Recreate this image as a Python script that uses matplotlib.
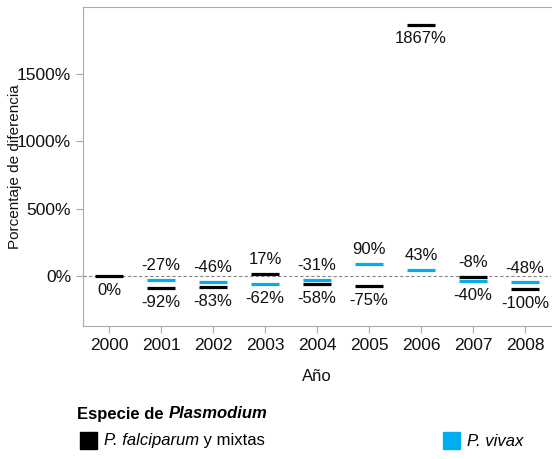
import matplotlib
matplotlib.use('Agg')
import matplotlib.pyplot as plt
from matplotlib.patches import Rectangle
import numpy as np

plt.rcParams['font.family'] = ['Liberation Sans', 'DejaVu Sans']

years = ['2000', '2001', '2002', '2003', '2004', '2005', '2006', '2007', '2008']
falciparum = [0, -92, -83, 17, -58, -75, 1867, -8, -100]
vivax = [None, -27, -46, -62, -31, 90, 43, -40, -48]
series_names = ['P. falciparum', 'P. vivax']
colors = ['#000000', '#00aeef']
yticks = [0, 500, 1000, 1500]

fig = plt.figure(figsize=(5.52, 4.59), dpi=100)
ax = fig.add_axes([83 / 552, 1 - 325.7 / 459, 468 / 552, (325.7 - 7) / 459])

x = np.arange(len(years))
hw = 0.27
for vals, col in zip([falciparum, vivax], colors):
    for xi, v in zip(x, vals):
        if v is None:
            continue
        ax.hlines(v, xi - hw, xi + hw, color=col, linewidth=2.3, zorder=3)

# value labels: higher one above its mark, lower one below
# (a mark near the top gets its label below and the other one goes above)
for xi, f, v in zip(x, falciparum, vivax):
    if v is None:
        items = [(f, False)]
    elif max(f, v) > 1500:
        items = [(f, f < v), (v, v < f)]
    else:
        items = [(f, f >= v), (v, v > f)]
    for val, up in items:
        ax.annotate(f'{val}%', (xi, val), xytext=(0, 5 if up else -5),
                    textcoords='offset points', ha='center',
                    va='bottom' if up else 'top', fontsize=12, color='#111111')

ax.axhline(0, color='#888888', linewidth=0.8, linestyle=(0, (3, 2)), zorder=1)

ax.set_xlim(-0.5, len(years) - 0.5)
ax.set_ylim(-369, 1997)
ax.set_xticks(x)
ax.set_xticklabels(years)
ax.set_yticks(yticks)
ax.set_yticklabels([f'{t}%' for t in yticks])
ax.tick_params(axis='both', colors='#aaaaaa', labelcolor='#111111', labelsize=12.5, length=5)
for s in ['left', 'bottom', 'top']:
    ax.spines[s].set_color('#aaaaaa')
ax.spines['right'].set_visible(False)
ax.set_xlabel('Año', fontsize=12, labelpad=12, color='#111111')
ax.set_ylabel('Porcentaje de diferencia', fontsize=11, color='#111111')
ax.yaxis.set_label_coords(-61 / 468, 0.5)

# legend
renderer = fig.canvas.get_renderer()
t1 = fig.text(77 / 552, 1 - 414 / 459, 'Especie de ', fontsize=12, fontweight='bold', va='center')
w = t1.get_window_extent(renderer).width
fig.text(77 / 552 + w / 552, 1 - 414 / 459, 'Plasmodium', fontsize=12, fontweight='bold',
         style='italic', va='center')

ly = 1 - 441 / 459
legend_x = [80, 443]
extra = [' y mixtas', '']
for lx, name, col, ex in zip(legend_x, series_names, colors, extra):
    fig.add_artist(Rectangle((lx / 552, 1 - 449 / 459), 17 / 552, 17 / 459,
                             transform=fig.transFigure, color=col))
    tt = fig.text((lx + 24) / 552, ly, name, fontsize=12, style='italic', va='center')
    if ex:
        w = tt.get_window_extent(renderer).width
        fig.text((lx + 24) / 552 + w / 552, ly, ex, fontsize=12, va='center')

fig.savefig('out.png', dpi=100)
